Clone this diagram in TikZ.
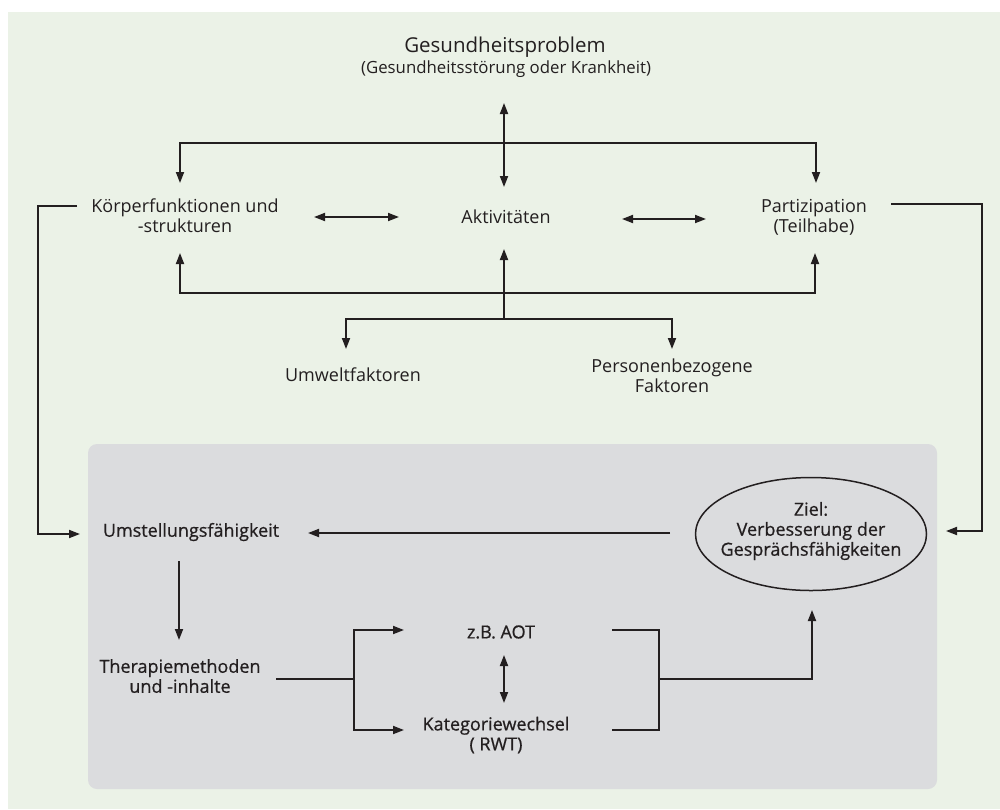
\documentclass[tikz,border=0pt]{standalone}
\usepackage{fontspec}
\setmainfont{Open Sans}
\newfontfamily\medfont{Open Sans}[FakeBold=0.7]
\usetikzlibrary{arrows.meta,shapes.geometric}
\definecolor{bggreen}{HTML}{EBF2E7}
\definecolor{boxgray}{HTML}{DBDCDE}
\definecolor{txt}{HTML}{231F20}
\begin{document}
\begin{tikzpicture}[x=1pt,y=-1pt,
  ln/.style={line width=1.8pt,draw=txt},
  conn/.style={ln,-{Triangle[length=11pt,width=8pt]}},
  dbl/.style={ln,{Triangle[length=11pt,width=8pt]}-{Triangle[length=11pt,width=8pt]}},
  lbl/.style={font=\fontsize{18}{20}\selectfont,align=center,inner sep=0pt,text=txt},
  blbl/.style={lbl,font=\medfont\fontsize{18}{20}\selectfont}]
\useasboundingbox (0,0) rectangle (1000,809);
\fill[white] (0,0) rectangle (1000,809);
\fill[bggreen] (8,12) rectangle (1000,809);
\fill[boxgray,rounded corners=9pt] (88,444) rectangle (937,789);

% texts
\node[lbl,font=\fontsize{20.5}{24}\selectfont] (gp) at (505,47) {Gesundheitsproblem};
\node[lbl,font=\fontsize{16.8}{18}\selectfont] (gps) at (506,69) {(Gesundheitsstörung oder Krankheit)};
\node[lbl] (kf) at (185,216) {Körperfunktionen und\\-strukturen};
\node[lbl] (akt) at (506,217) {Aktivitäten};
\node[lbl] (part) at (814,217) {Partizipation\\(Teilhabe)};
\node[lbl] (umw) at (353,375) {Umweltfaktoren};
\node[lbl] (pers) at (672,376) {Personenbezogene\\Faktoren};
\node[blbl] (ums) at (191,532) {Umstellungsfähigkeit};
\node[draw=txt,line width=1.5pt,ellipse,minimum width=231pt,minimum height=113pt] (ziel) at (811,534) {};
\node[blbl] (zieltxt) at (811,531) {Ziel:\\Verbesserung der\\Gesprächsfähigkeiten};
\node[blbl] (ther) at (180,676) {Therapiemethoden\\und -inhalte};
\node[blbl] (aot) at (501,632) {z.B. AOT};
\node[blbl] (kat) at (496,735) {Kategoriewechsel\\( RWT)};

% coordinates
\coordinate (gpb) at (504,103);
\coordinate (aktt) at (504,187);
\coordinate (kft) at (180,183);
\coordinate (partt) at (816,183);
\coordinate (toprail) at (816,143);
\coordinate (kfb) at (180,253);
\coordinate (partb) at (815,253);
\coordinate (botrail) at (815,293);
\coordinate (aktb) at (504,249);
\coordinate (branch) at (504,319);
\coordinate (umwt) at (346,349);
\coordinate (perst) at (672,349);
\coordinate (kfl) at (77,206);
\coordinate (leftrun) at (38,534);
\coordinate (umsl) at (80,534);
\coordinate (partr) at (891,204);
\coordinate (rightrun) at (982,531);
\coordinate (zielr) at (946,531);
\coordinate (zielw) at (670,533);
\coordinate (umsr) at (308,533);
\coordinate (umsb) at (179,561);
\coordinate (thert) at (179,640);
\coordinate (therr) at (276,679);
\coordinate (lbr) at (354,679);
\coordinate (aotl) at (404,630);
\coordinate (katl) at (404,730);
\coordinate (aotr) at (612,630);
\coordinate (katr) at (612,730);
\coordinate (rbr) at (659,679);
\coordinate (zielb) at (812,610);

% connectors
\draw[dbl] (gpb) -- (aktt);
\draw[dbl] (kft) |- (toprail) -- (partt);
\draw[dbl] (kfb) |- (botrail) -- (partb);
\draw[conn] (branch) -- (aktb);
\draw[dbl] (umwt) |- (branch) -| (perst);
\draw[dbl] (314,217) -- (399,217);
\draw[dbl] (622,219) -- (706,219);
\draw[conn] (kfl) -| (leftrun) -- (umsl);
\draw[conn] (partr) -| (rightrun) -- (zielr);
\draw[conn] (zielw) -- (umsr);
\draw[conn] (umsb) -- (thert);
\draw[ln] (therr) -- (lbr);
\draw[dbl] (aotl) -| (lbr) |- (katl);
\draw[dbl] (504,655) -- (504,703);
\draw[ln] (aotr) -| (rbr) |- (katr);
\draw[conn] (rbr) -| (zielb);
\end{tikzpicture}
\end{document}
